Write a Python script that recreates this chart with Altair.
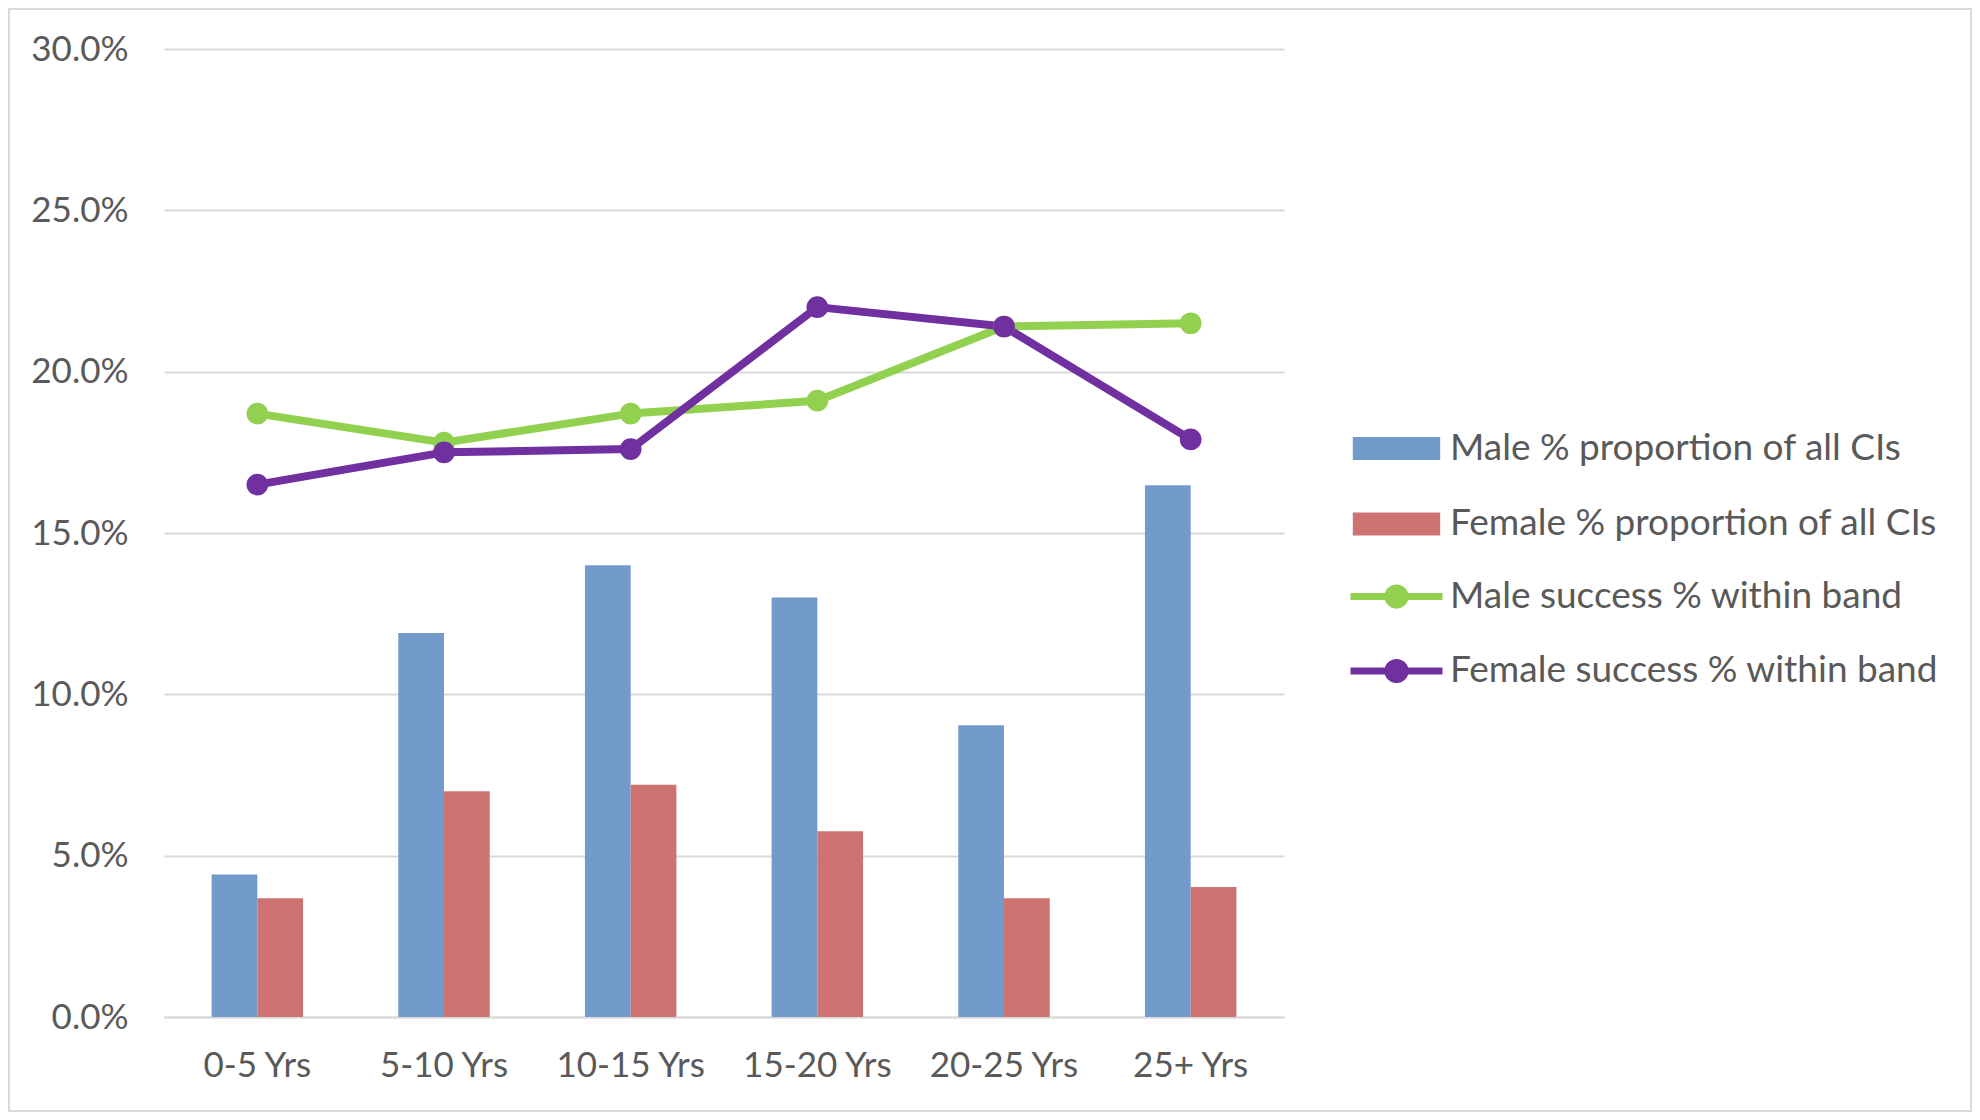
import altair as alt
import pandas as pd

categories = ["0-5 Yrs", "5-10 Yrs", "10-15 Yrs", "15-20 Yrs", "20-25 Yrs", "25+ Yrs"]
male_prop = [4.42, 11.9, 14.0, 13.0, 9.04, 16.48]
female_prop = [3.68, 7.0, 7.2, 5.76, 3.68, 4.03]
male_success = [18.7, 17.8, 18.7, 19.1, 21.4, 21.5]
female_success = [16.5, 17.5, 17.6, 22.0, 21.4, 17.9]

bar_series = ["Male % proportion of all CIs", "Female % proportion of all CIs"]
line_series = ["Male success % within band", "Female success % within band"]
bar_colors = ["#729aca", "#cd7371"]
line_colors = ["#92d050", "#7030a0"]

rows_b = []
for s, vals in zip(bar_series, [male_prop, female_prop]):
    for c, v in zip(categories, vals):
        rows_b.append({"band": c, "series": s, "value": v / 100})
bars_df = pd.DataFrame(rows_b)

rows_l = []
for s, vals in zip(line_series, [male_success, female_success]):
    for c, v in zip(categories, vals):
        rows_l.append({"band": c, "series": s, "value": v / 100})
lines_df = pd.DataFrame(rows_l)

FONT = "Lato"
TXT = "#595959"
GRID = "#d9d9d9"
W, H = 1120, 968
FS = 35
LFS = 37

x_enc = alt.X("band:N", sort=categories, title=None,
              scale=alt.Scale(paddingInner=0.51, paddingOuter=0.255),
              axis=alt.Axis(labelFont=FONT, labelFontSize=FS, labelColor=TXT,
                            labelAngle=0, labelPadding=31, ticks=False,
                            domainColor=GRID, domainWidth=2, grid=False))
y_enc = alt.Y("value:Q", title=None,
              scale=alt.Scale(domain=[0, 0.30], nice=False),
              axis=alt.Axis(format=".1%", values=[0, 0.05, 0.10, 0.15, 0.20, 0.25, 0.30],
                            labelFont=FONT, labelFontSize=FS, labelColor=TXT,
                            labelPadding=36, ticks=False, domain=False,
                            gridColor=GRID, gridWidth=2))

bar_legend = alt.Legend(title=None, orient="none", legendX=1214, legendY=381,
                        symbolType="M-3.8,-1H3.8V1H-3.8Z", symbolSize=529,
                        symbolStrokeWidth=0,
                        labelFont=FONT, labelFontSize=LFS, labelColor=TXT, labelLimit=0,
                        labelOffset=35, rowPadding=37.5, padding=0)

line_path = ("M-4,0H4"
             "M-0.25,0A0.25,0.25 0 1,0 0.25,0A0.25,0.25 0 1,0 -0.25,0"
             "M-0.55,0A0.55,0.55 0 1,0 0.55,0A0.55,0.55 0 1,0 -0.55,0"
             "M-0.75,0A0.75,0.75 0 1,0 0.75,0A0.75,0.75 0 1,0 -0.75,0")
line_legend = alt.Legend(title=None, orient="none", legendX=1214, legendY=529,
                         symbolType=line_path, symbolSize=529,
                         symbolStrokeWidth=7, symbolFillColor="transparent",
                         labelFont=FONT, labelFontSize=LFS, labelColor=TXT, labelLimit=0,
                         labelOffset=35, rowPadding=27.5, padding=0)

bars = alt.Chart(bars_df).mark_bar().encode(
    x=x_enc,
    y=y_enc,
    xOffset=alt.XOffset("series:N", sort=bar_series,
                        scale=alt.Scale(domain=bar_series, paddingInner=0, paddingOuter=0)),
    color=alt.Color("series:N", sort=bar_series,
                    scale=alt.Scale(domain=bar_series, range=bar_colors),
                    legend=bar_legend),
)

lines = alt.Chart(lines_df).mark_line(strokeWidth=8, strokeCap="round", strokeJoin="round").encode(
    x=alt.X("band:N", sort=categories),
    y="value:Q",
    stroke=alt.Stroke("series:N", sort=line_series,
                      scale=alt.Scale(domain=line_series, range=line_colors),
                      legend=line_legend),
    detail="series:N",
)

points = alt.Chart(lines_df).mark_point(filled=True, shape="circle", size=470, opacity=1).encode(
    x=alt.X("band:N", sort=categories),
    y="value:Q",
    fill=alt.Fill("series:N", sort=line_series,
                  scale=alt.Scale(domain=line_series, range=line_colors),
                  legend=None),
)

frame = alt.Chart(pd.DataFrame({"k": [0]})).mark_rect(
    fill="transparent", stroke=GRID, strokeWidth=2
).encode(
    x=alt.value(-155), x2=alt.value(W + 687),
    y=alt.value(-40), y2=alt.value(H + 94),
)

chart = alt.layer(frame, bars, lines, points).properties(
    width=W, height=H,
    autosize=alt.AutoSizeParams(type="none"),
    padding={"left": 156, "top": 41, "right": 688, "bottom": 95},
    background="white",
).configure_view(stroke=None)

chart.save("out.html", embed_options={"renderer": "svg", "actions": False})
